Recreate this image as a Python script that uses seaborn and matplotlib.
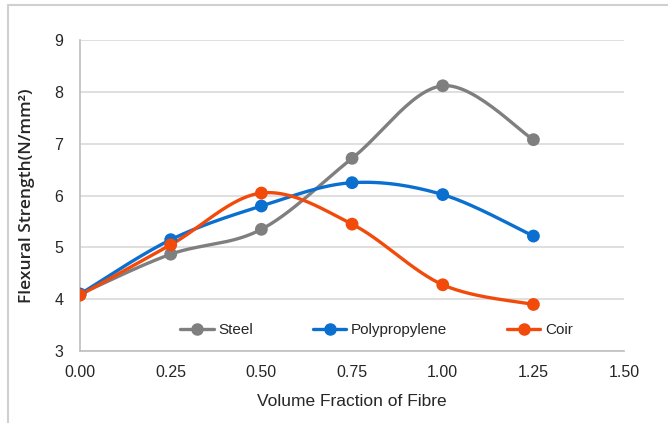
import numpy as np
import pandas as pd
import matplotlib
matplotlib.use("Agg")
import matplotlib.pyplot as plt
import seaborn as sns
from matplotlib.lines import Line2D

fraction = [0.00, 0.25, 0.50, 0.75, 1.00, 1.25]
steel = [4.10, 4.87, 5.35, 6.72, 8.12, 7.08]
polypropylene = [4.10, 5.15, 5.80, 6.25, 6.02, 5.22]
coir = [4.08, 5.05, 6.05, 5.45, 4.28, 3.90]
series_names = ["Steel", "Polypropylene", "Coir"]
colors = {"Steel": "#7F7F7F", "Polypropylene": "#0A6FCF", "Coir": "#F24A0A"}
xticks = [0.00, 0.25, 0.50, 0.75, 1.00, 1.25, 1.50]
yticks = [3, 4, 5, 6, 7, 8, 9]

sns.set_theme(style="white")
plt.rcParams["font.family"] = ["Liberation Sans Narrow", "Liberation Sans", "DejaVu Sans"]

df = pd.DataFrame({"fraction": fraction * 3,
                   "value": steel + polypropylene + coir,
                   "series": sum([[n] * len(fraction) for n in series_names], [])})


def smooth(xs, ys, n=30):
    pts = np.column_stack([xs, ys]).astype(float)
    P = np.vstack([pts[0], pts, pts[-1]])
    out = []
    for i in range(1, len(P) - 2):
        p0, p1, p2, p3 = P[i - 1], P[i], P[i + 1], P[i + 2]
        c1 = p1 + (p2 - p0) / 6.0
        c2 = p2 - (p3 - p1) / 6.0
        t = np.linspace(0, 1, n)[:, None]
        b = ((1 - t) ** 3) * p1 + 3 * ((1 - t) ** 2) * t * c1 + 3 * (1 - t) * t ** 2 * c2 + t ** 3 * p2
        out.append(b if i == 1 else b[1:])
    out = np.vstack(out)
    return out[:, 0], out[:, 1]


fig = plt.figure(figsize=(6.68, 4.23), dpi=100)
ax = fig.add_axes([0.1198, 0.170, 0.8145, 0.735])

for name in series_names:
    sub = df[df.series == name]
    sx, sy = smooth(sub.fraction.values, sub.value.values)
    ax.plot(sx, sy, color=colors[name], lw=2.4, solid_capstyle="round", zorder=3)

sns.scatterplot(data=df, x="fraction", y="value", hue="series", palette=colors,
                s=85, edgecolor="none", ax=ax, legend=False, zorder=4)

ax.set_xlim(0, 1.5)
ax.set_ylim(3, 9)
ax.set_xticks(xticks)
ax.set_xticklabels([f"{v:.2f}" for v in xticks], fontsize=11.5)
ax.set_yticks(yticks)
ax.set_yticklabels([str(v) for v in yticks], fontsize=11.5)
ax.tick_params(axis="both", length=0, pad=10)
ax.tick_params(axis="y", pad=12)
ax.grid(axis="y", color="#D9D9D9", lw=1.2)
for s in ["top", "right"]:
    ax.spines[s].set_visible(False)
ax.spines["left"].set_color("#BFBFBF")
ax.spines["bottom"].set_color("#BFBFBF")
ax.spines["left"].set_linewidth(1.2)
ax.spines["bottom"].set_linewidth(1.2)

ax.set_xlabel("Volume Fraction of Fibre", fontsize=12.5, labelpad=10)
ax.set_ylabel("Flexural Strength(N/mm²)", fontsize=12.5, labelpad=14,
              family=["Open Sans", "DejaVu Sans"], fontweight="semibold")

handles = [Line2D([0], [0], color=colors[n], lw=2.4, marker="o", markersize=8) for n in series_names]
ax.legend(handles, series_names, loc="lower center", bbox_to_anchor=(0.545, 0.0), ncol=3,
          frameon=False, fontsize=11, columnspacing=3.9, handlelength=2.2, handletextpad=0.3)

fig.add_artist(Line2D([8 / 668, 1.0], [1 - 5 / 423, 1 - 5 / 423], transform=fig.transFigure,
                      color="#D0D0D0", lw=1.5))
fig.add_artist(Line2D([8 / 668, 8 / 668], [0, 1 - 5 / 423], transform=fig.transFigure,
                      color="#D0D0D0", lw=1.5))

fig.savefig("out.png", dpi=100)
